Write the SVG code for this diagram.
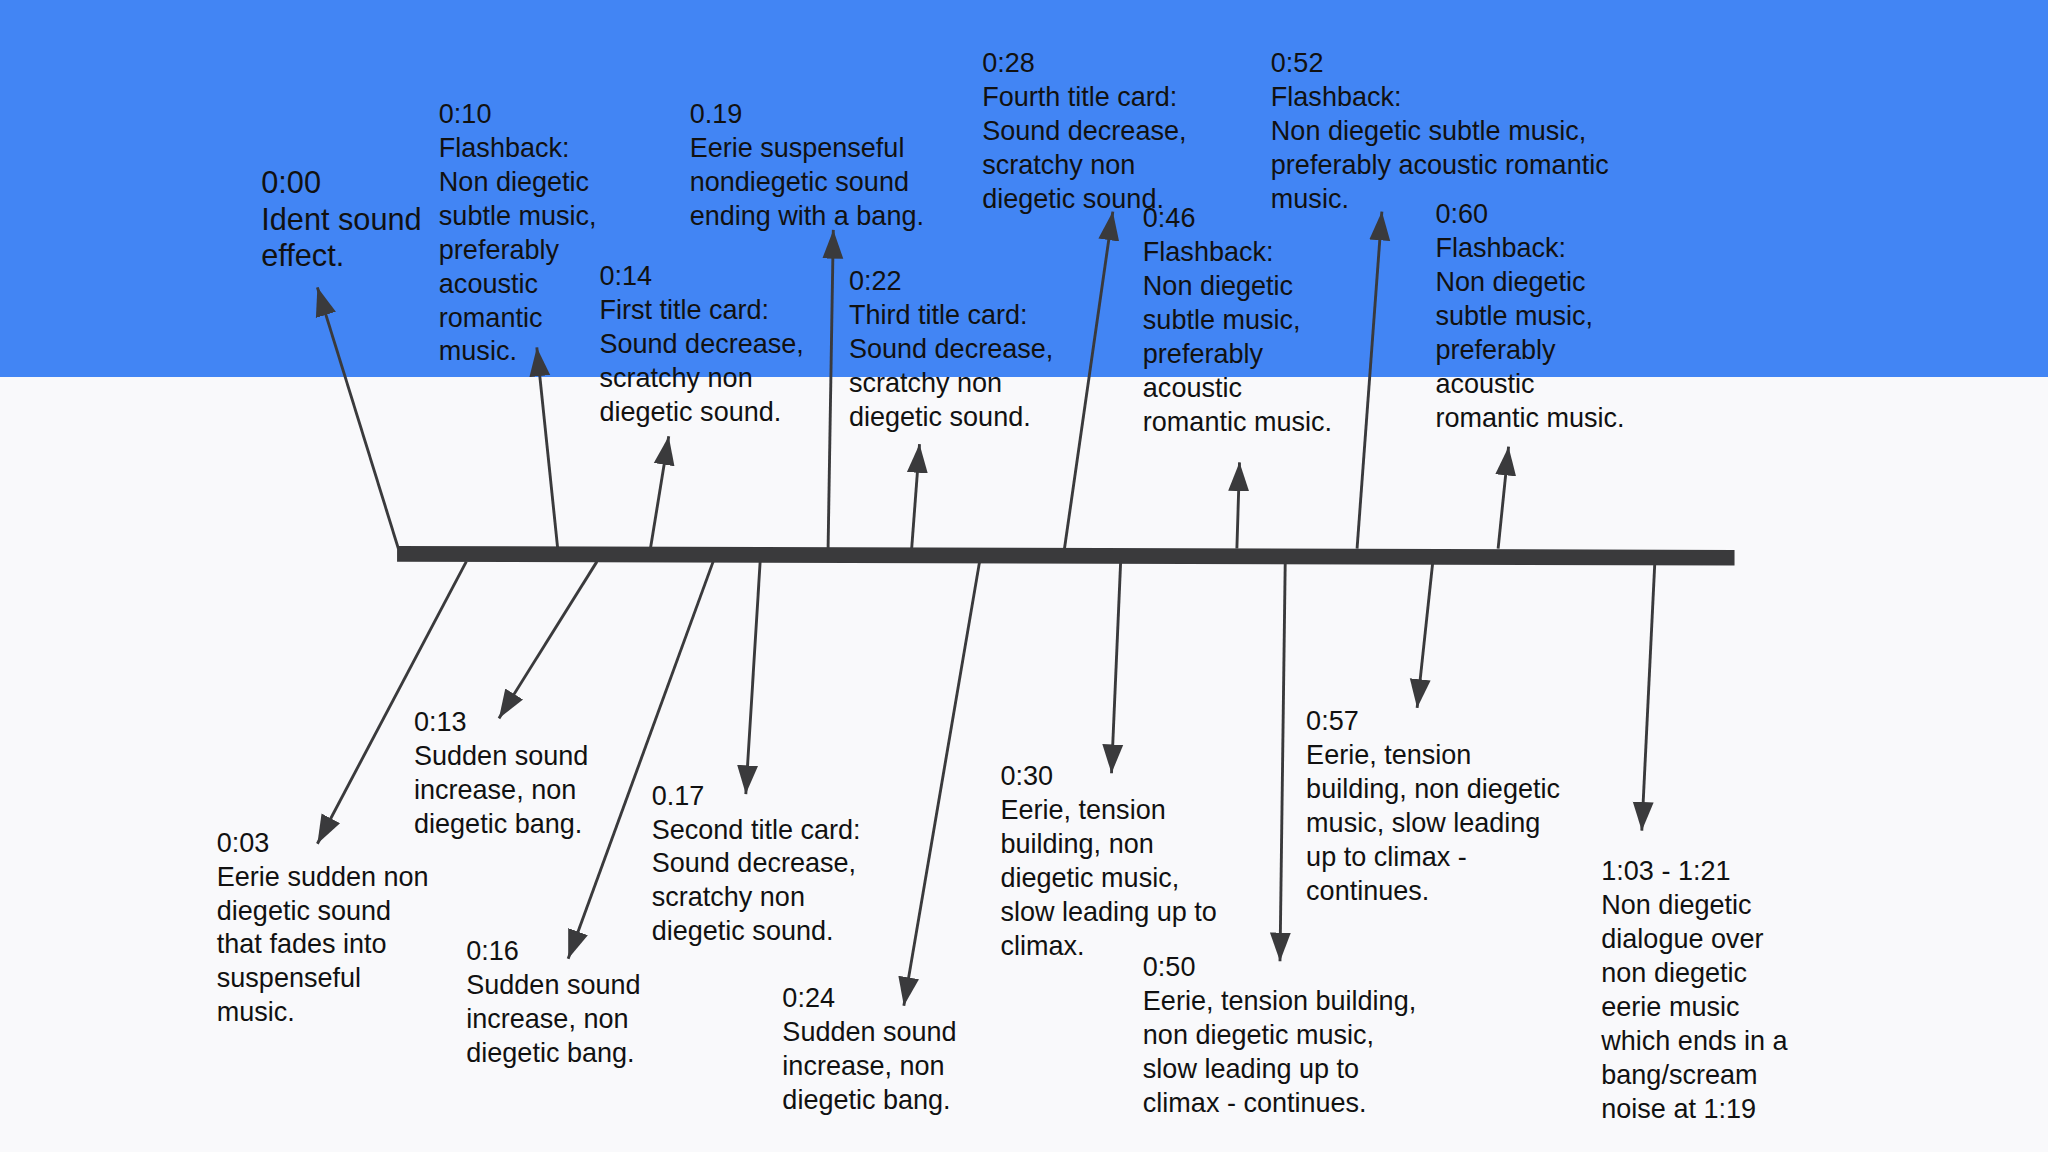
<svg xmlns="http://www.w3.org/2000/svg" width="2048" height="1152" viewBox="0 0 2048 1152">
<style>
text{font-family:"Liberation Sans",Arial,sans-serif;font-size:20.7px;fill:#111}
.big{font-size:23.5px}
.c line{stroke:#3a3a3c;stroke-width:2.2;marker-end:url(#ah)}
</style>
<defs>
<marker id="ah" markerUnits="userSpaceOnUse" markerWidth="24" markerHeight="18" refX="22" refY="8" orient="auto" viewBox="0 0 24 16">
<path d="M0,0 L22,8 L0,16 z" fill="#3a3a3c"/>
</marker>
</defs>
<rect width="2048" height="1152" fill="#f9f9fb"/>
<rect width="2048" height="377" fill="#4285f4"/>
<g transform="scale(1.30612)">
<polygon id="spine" points="304,418 1328,421 1328,433 304,430" fill="#3a3a3c"/>
<g class="c" id="connectors">
<line x1="305" y1="420" x2="243" y2="220"/>
<line x1="427" y1="420" x2="411" y2="266"/>
<line x1="498" y1="420" x2="512" y2="334"/>
<line x1="634" y1="420" x2="638" y2="176"/>
<line x1="698" y1="420" x2="704" y2="340"/>
<line x1="815" y1="420" x2="852" y2="162"/>
<line x1="947" y1="420" x2="949" y2="354"/>
<line x1="1039" y1="420" x2="1058" y2="162"/>
<line x1="1147" y1="420" x2="1155" y2="342"/>
<line x1="357" y1="430" x2="243" y2="646"/>
<line x1="457" y1="430" x2="382" y2="550"/>
<line x1="546" y1="430" x2="435" y2="734"/>
<line x1="582" y1="430" x2="571" y2="608"/>
<line x1="750" y1="430" x2="692" y2="770"/>
<line x1="858" y1="430" x2="851" y2="592"/>
<line x1="984" y1="430" x2="980" y2="736"/>
<line x1="1097" y1="430" x2="1085" y2="542"/>
<line x1="1267" y1="430" x2="1257" y2="636"/>
</g>
<g id="n000"><text class="big" x="200" y="148">0:00<tspan x="200" dy="28">Ident sound</tspan><tspan x="200" dy="28">effect.</tspan></text></g>
<g id="n010"><text x="336" y="94">0:10<tspan x="336" dy="26">Flashback:</tspan><tspan x="336" dy="26">Non diegetic</tspan><tspan x="336" dy="26">subtle music,</tspan><tspan x="336" dy="26">preferably</tspan><tspan x="336" dy="26">acoustic</tspan><tspan x="336" dy="26">romantic</tspan><tspan x="336" dy="26">music.</tspan></text></g>
<g id="n019"><text x="528" y="94">0.19<tspan x="528" dy="26">Eerie suspenseful</tspan><tspan x="528" dy="26">nondiegetic sound</tspan><tspan x="528" dy="26">ending with a bang.</tspan></text></g>
<g id="n014"><text x="459" y="218">0:14<tspan x="459" dy="26">First title card:</tspan><tspan x="459" dy="26">Sound decrease,</tspan><tspan x="459" dy="26">scratchy non</tspan><tspan x="459" dy="26">diegetic sound.</tspan></text></g>
<g id="n022"><text x="650" y="222">0:22<tspan x="650" dy="26">Third title card:</tspan><tspan x="650" dy="26">Sound decrease,</tspan><tspan x="650" dy="26">scratchy non</tspan><tspan x="650" dy="26">diegetic sound.</tspan></text></g>
<g id="n028"><text x="752" y="55">0:28<tspan x="752" dy="26">Fourth title card:</tspan><tspan x="752" dy="26">Sound decrease,</tspan><tspan x="752" dy="26">scratchy non</tspan><tspan x="752" dy="26">diegetic sound.</tspan></text></g>
<g id="n052"><text x="973" y="55">0:52<tspan x="973" dy="26">Flashback:</tspan><tspan x="973" dy="26">Non diegetic subtle music,</tspan><tspan x="973" dy="26">preferably acoustic romantic</tspan><tspan x="973" dy="26">music.</tspan></text></g>
<g id="n046"><text x="875" y="174">0:46<tspan x="875" dy="26">Flashback:</tspan><tspan x="875" dy="26">Non diegetic</tspan><tspan x="875" dy="26">subtle music,</tspan><tspan x="875" dy="26">preferably</tspan><tspan x="875" dy="26">acoustic</tspan><tspan x="875" dy="26">romantic music.</tspan></text></g>
<g id="n060"><text x="1099" y="171">0:60<tspan x="1099" dy="26">Flashback:</tspan><tspan x="1099" dy="26">Non diegetic</tspan><tspan x="1099" dy="26">subtle music,</tspan><tspan x="1099" dy="26">preferably</tspan><tspan x="1099" dy="26">acoustic</tspan><tspan x="1099" dy="26">romantic music.</tspan></text></g>
<g id="n003"><text x="166" y="652">0:03<tspan x="166" dy="26">Eerie sudden non</tspan><tspan x="166" dy="26">diegetic sound</tspan><tspan x="166" dy="26">that fades into</tspan><tspan x="166" dy="26">suspenseful</tspan><tspan x="166" dy="26">music.</tspan></text></g>
<g id="n013"><text x="317" y="560">0:13<tspan x="317" dy="26">Sudden sound</tspan><tspan x="317" dy="26">increase, non</tspan><tspan x="317" dy="26">diegetic bang.</tspan></text></g>
<g id="n016"><text x="357" y="735">0:16<tspan x="357" dy="26">Sudden sound</tspan><tspan x="357" dy="26">increase, non</tspan><tspan x="357" dy="26">diegetic bang.</tspan></text></g>
<g id="n017"><text x="499" y="616">0.17<tspan x="499" dy="26">Second title card:</tspan><tspan x="499" dy="26">Sound decrease,</tspan><tspan x="499" dy="26">scratchy non</tspan><tspan x="499" dy="26">diegetic sound.</tspan></text></g>
<g id="n024"><text x="599" y="771">0:24<tspan x="599" dy="26">Sudden sound</tspan><tspan x="599" dy="26">increase, non</tspan><tspan x="599" dy="26">diegetic bang.</tspan></text></g>
<g id="n030"><text x="766" y="601">0:30<tspan x="766" dy="26">Eerie, tension</tspan><tspan x="766" dy="26">building, non</tspan><tspan x="766" dy="26">diegetic music,</tspan><tspan x="766" dy="26">slow leading up to</tspan><tspan x="766" dy="26">climax.</tspan></text></g>
<g id="n050"><text x="875" y="747">0:50<tspan x="875" dy="26">Eerie, tension building,</tspan><tspan x="875" dy="26">non diegetic music,</tspan><tspan x="875" dy="26">slow leading up to</tspan><tspan x="875" dy="26">climax - continues.</tspan></text></g>
<g id="n057"><text x="1000" y="559">0:57<tspan x="1000" dy="26">Eerie, tension</tspan><tspan x="1000" dy="26">building, non diegetic</tspan><tspan x="1000" dy="26">music, slow leading</tspan><tspan x="1000" dy="26">up to climax -</tspan><tspan x="1000" dy="26">continues.</tspan></text></g>
<g id="n103"><text x="1226" y="674">1:03 - 1:21<tspan x="1226" dy="26">Non diegetic</tspan><tspan x="1226" dy="26">dialogue over</tspan><tspan x="1226" dy="26">non diegetic</tspan><tspan x="1226" dy="26">eerie music</tspan><tspan x="1226" dy="26">which ends in a</tspan><tspan x="1226" dy="26">bang/scream</tspan><tspan x="1226" dy="26">noise at 1:19</tspan></text></g>
</g>
</svg>
